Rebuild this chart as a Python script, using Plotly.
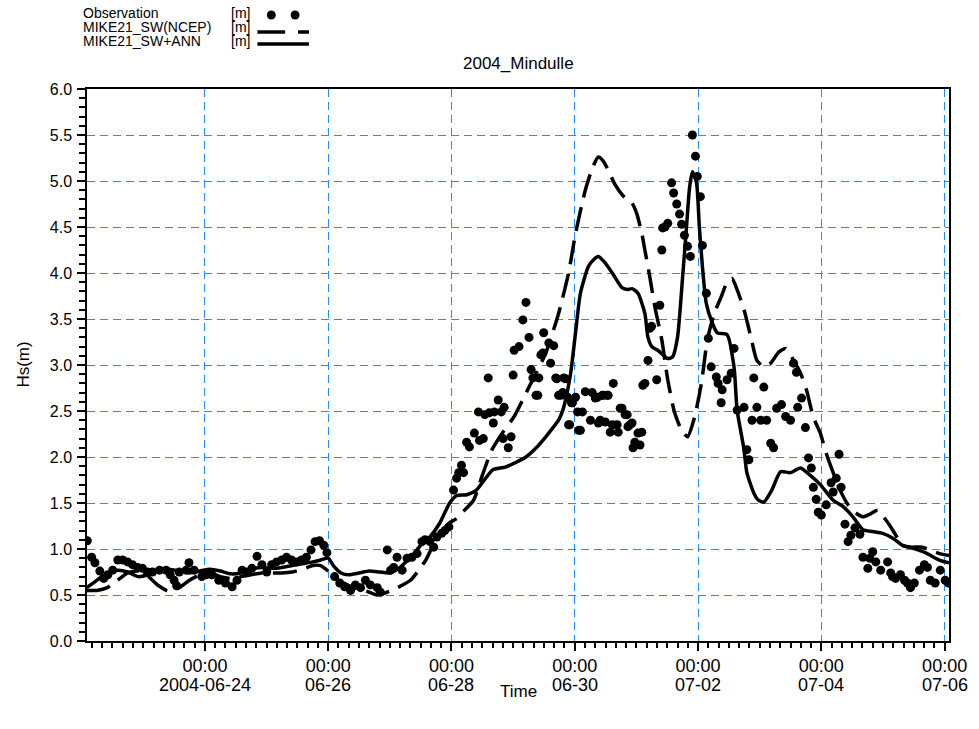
import pandas as pd
import plotly.graph_objects as go

BASE = pd.Timestamp("2004-06-22 00:00")

# Observed significant wave height: hours after 2004-06-22 00:00, Hs [m]
obs_hours = [
    2.2, 3.9, 5.2, 7.1, 8.6, 10.2, 12.1, 14.1, 16.0, 17.9, 19.8, 21.8, 23.7, 25.6, 27.6,
    30.3, 32.9, 34.5, 36.0, 37.0, 38.0, 40.7, 41.8, 43.8, 46.8, 48.5, 50.7, 53.4, 56.0,
    58.6, 60.5, 62.5, 64.4, 66.3, 68.3, 70.2, 72.1, 74.0, 75.9, 77.9, 79.8, 81.7, 83.7,
    85.6, 87.5, 89.3, 90.9, 92.6, 94.3, 95.5, 98.5, 100.5, 102.4, 104.7, 106.6, 108.6,
    110.5, 112.4, 115.1, 116.3, 119.0, 120.3, 121.5, 122.8, 124.8, 126.7, 128.6, 130.6,
    132.5, 133.7, 135.6, 137.1, 138.3, 140.2, 141.4, 143.0, 144.8, 146.0, 146.8, 147.9,
    148.7, 149.9, 151.0, 152.9, 154.5, 154.9, 156.4, 157.0, 158.3, 158.7, 160.3, 160.7,
    162.2, 163.4, 164.1, 164.5, 166.1, 167.2, 168.0, 168.4, 170.3, 171.8, 173.0, 174.2,
    175.0, 175.7, 176.9, 177.6, 178.0, 178.8, 179.6, 179.9, 181.9, 182.6, 183.8, 184.6,
    185.0, 185.7, 186.5, 187.3, 187.7, 188.4, 189.2, 189.6, 190.0, 190.7, 191.1, 192.3,
    193.1, 193.5, 194.2, 195.0, 196.1, 198.1, 198.8, 200.0, 200.8, 201.2, 201.9, 202.7,
    203.1, 203.9, 204.6, 205.0, 205.8, 206.6, 207.0, 208.5, 208.9, 209.7, 210.4, 211.6,
    212.4, 212.7, 213.5, 214.3, 214.7, 215.4, 216.6, 217.4, 218.1, 218.5, 219.3, 220.5,
    221.2, 221.9, 223.9, 225.1, 225.9, 226.2, 227.1, 228.2, 229.7, 230.5, 231.7, 232.8,
    233.6, 234.7, 235.9, 237.0, 237.8, 239.0, 239.7, 240.9, 241.7, 243.2, 244.0, 245.1,
    247.1, 247.8, 249.0, 249.4, 251.3, 252.9, 254.0, 255.2, 257.9, 259.0, 259.8, 261.0,
    261.7, 262.9, 264.4, 265.6, 266.7, 268.3, 269.4, 270.6, 272.5, 274.1, 276.0, 277.2,
    278.3, 278.8, 280.3, 281.8, 283.0, 284.1, 284.9, 286.0, 286.8, 288.0, 289.9, 291.8,
    292.6, 293.8, 294.9, 295.7, 297.2, 298.4, 299.5, 301.1, 303.0, 304.2, 306.1, 306.9,
    308.0, 309.2, 311.1, 313.8, 315.0, 315.7, 316.9, 318.8, 320.4, 321.5, 322.7, 324.2,
    326.2, 328.1, 329.3, 330.4, 332.3, 334.3, 336.2, 337.5,
]
obs_hs = [
    1.09, 0.91, 0.85, 0.76, 0.68, 0.72, 0.77, 0.88, 0.88, 0.86, 0.83, 0.80, 0.79, 0.75, 0.75,
    0.77, 0.77, 0.72, 0.66, 0.60, 0.75, 0.77, 0.85, 0.77, 0.70, 0.72, 0.72, 0.66, 0.63,
    0.59, 0.66, 0.77, 0.75, 0.79, 0.92, 0.83, 0.75, 0.83, 0.86, 0.88, 0.91, 0.88, 0.86,
    0.88, 0.91, 0.99, 1.08, 1.09, 1.04, 0.96, 0.70, 0.63, 0.59, 0.55, 0.61, 0.58,
    0.66, 0.61, 0.58, 0.53, 0.99, 0.77, 0.80, 0.91, 0.77, 0.90, 0.91, 0.95,
    1.08, 1.10, 1.08, 1.02, 1.13, 1.17, 1.20, 1.24, 1.64, 1.77, 1.83, 1.91,
    1.83, 2.16, 2.11, 2.26, 2.49, 2.18, 2.20, 2.46, 2.86, 2.48, 2.37, 2.49,
    2.62, 2.49, 2.20, 2.54, 2.10, 2.22, 2.89, 3.16, 3.20, 3.49, 3.68, 3.30,
    2.95, 2.86, 2.67, 2.67, 2.86, 3.11, 3.13, 3.35, 3.24, 3.02, 3.21, 2.86,
    2.85, 2.67, 2.67, 2.70, 2.86, 2.85, 2.65, 2.35, 2.35, 2.59, 2.59, 2.65,
    2.49, 2.29, 2.29, 2.49, 2.71, 2.40, 2.70, 2.64, 2.65, 2.37, 2.40, 2.67,
    2.67, 2.38, 2.67, 2.67, 2.27, 2.35, 2.80, 2.35, 2.27, 2.53, 2.53, 2.46,
    2.46, 2.33, 2.35, 2.37, 2.10, 2.16, 2.26, 2.13, 2.27, 2.78, 2.80, 3.05,
    3.40, 3.42, 2.84, 3.65, 4.25, 4.49, 4.50, 4.54, 4.98, 4.87, 4.75, 4.64,
    4.53, 4.41, 4.29, 4.18, 5.50, 5.27, 5.05, 4.83, 4.30, 3.78, 3.29, 2.98,
    2.87, 2.80, 2.59, 2.73, 2.84, 2.91, 3.18, 2.51, 2.54, 2.08, 1.97, 2.40,
    2.86, 2.54, 2.40, 2.76, 2.40, 2.15, 2.10, 2.53, 2.57, 2.44, 2.40, 3.02,
    2.92, 2.54, 2.64, 2.32, 1.99, 1.88, 1.67, 1.54, 1.40, 1.37, 1.48, 1.72,
    1.62, 1.77, 2.03, 1.67, 1.27, 1.08, 1.15, 1.23, 1.16, 0.91, 0.79, 0.90,
    0.97, 0.86, 0.77, 0.86, 0.74, 0.70, 0.68, 0.72, 0.66, 0.63, 0.58, 0.63,
    0.77, 0.83, 0.80, 0.66, 0.63, 0.77, 0.66, 0.63,
]

# MIKE21 SW driven by NCEP winds
ncep_hours = [
    2, 6, 10, 14, 18, 22, 26, 30, 34, 38, 42, 46, 50, 54, 58, 62, 66, 70, 74, 78, 82, 86,
    90, 93, 96, 99, 102, 106, 110, 115, 118, 123, 128, 131, 134, 138, 143, 146, 149, 152.6,
    156, 159.6, 164, 168.4, 174.2, 180.7, 185.7, 189.6, 192.3, 196.1, 199, 201.2, 203, 205,
    207.7, 210.8, 214.3, 216.2, 218.1, 219.3, 221.2, 223.2, 225.9, 228.2, 230.9, 233.6,
    235.9, 238.6, 241.3, 243.6, 246.3, 249, 251.3, 253.2, 255.2, 257.9, 260.6, 262.9,
    265.6, 268.3, 271.4, 274.1, 277.2, 279.9, 282.2, 284.9, 287.6, 289.9, 292.6, 295.3,
    298.4, 301, 304.2, 307, 310, 313, 315.7, 319.6, 323, 327.3, 331, 334, 337.7,
]
ncep_hs = [
    0.55, 0.55, 0.58, 0.66, 0.74, 0.76, 0.70, 0.60, 0.54, 0.58, 0.66, 0.72, 0.74, 0.70,
    0.68, 0.70, 0.72, 0.74, 0.74, 0.74, 0.75, 0.78, 0.82, 0.82, 0.76, 0.68, 0.63, 0.58,
    0.55, 0.50, 0.52, 0.58, 0.66, 0.76, 0.88, 1.10, 1.28, 1.33, 1.42, 1.53, 1.80, 2.07,
    2.27, 2.44, 2.76, 3.13, 3.56, 4.00, 4.43, 4.90, 5.15, 5.26, 5.22, 5.12, 4.96, 4.84,
    4.76, 4.64, 4.43, 4.25, 3.96, 3.63, 3.27, 2.84, 2.48, 2.29, 2.22, 2.43, 2.80, 3.27,
    3.56, 3.74, 3.90, 3.94, 3.82, 3.60, 3.30, 3.05, 2.98, 3.02, 3.14, 3.18, 3.05, 2.91,
    2.73, 2.43, 2.26, 2.04, 1.83, 1.64, 1.48, 1.40, 1.35, 1.38, 1.42, 1.32, 1.21, 1.04,
    1.02, 1.02, 0.98, 0.95, 0.93,
]

# MIKE21 SW corrected with the ANN
ann_hours = [
    2, 5, 8, 11, 14, 18, 22, 26, 30, 34, 38, 42, 46, 50, 54, 58, 62, 66, 70, 74, 78, 82,
    86, 90, 93, 96, 98, 101, 104, 108, 112, 116, 120, 124, 127, 129.4, 132, 135.6, 139.4,
    143.3, 146, 150, 153.7, 157.6, 160, 165, 169, 173, 177, 180.7, 183, 185.7, 187.5,
    188.4, 190.4, 192.3, 194.2, 197.3, 199.5, 201.2, 203.5, 206.6, 210.4, 212.5, 214.3,
    216.6, 219.3, 220.5, 222, 224.3, 228.2, 230.1, 232, 234, 235.5, 236.7, 237.8, 239.4,
    240.5, 241.7, 243.2, 245.5, 247.5, 251.3, 254, 255.2, 257.9, 259, 261.7, 263.5, 265.6,
    268.7, 272.1, 276, 279.9, 283.7, 287.6, 292.6, 296.5, 300.3, 304.2, 308, 311.9, 315.7,
    319.6, 323.5, 328.5, 333.9, 337.7,
]
ann_hs = [
    0.58, 0.64, 0.70, 0.74, 0.77, 0.75, 0.70, 0.72, 0.77, 0.78, 0.76, 0.74, 0.76, 0.78,
    0.76, 0.73, 0.74, 0.78, 0.80, 0.79, 0.80, 0.82, 0.84, 0.86, 0.88, 0.90, 0.82, 0.74,
    0.72, 0.74, 0.76, 0.75, 0.74, 0.80, 0.88, 0.95, 1.04, 1.13, 1.28, 1.50, 1.58, 1.59,
    1.64, 1.78, 1.86, 1.89, 1.94, 2.00, 2.10, 2.22, 2.30, 2.40, 2.52, 2.62, 2.91, 3.35,
    3.78, 4.07, 4.15, 4.18, 4.12, 4.00, 3.84, 3.82, 3.83, 3.78, 3.56, 3.30, 3.20, 3.16,
    3.07, 3.09, 3.30, 3.96, 4.50, 4.93, 5.10, 4.98, 4.50, 4.07, 3.67, 3.46, 3.35, 3.33,
    2.98, 2.51, 2.08, 1.83, 1.61, 1.53, 1.51, 1.64, 1.84, 1.83, 1.88, 1.80, 1.70, 1.53,
    1.46, 1.35, 1.21, 1.19, 1.17, 1.12, 1.04, 1.01, 0.96, 0.88, 0.85,
]

tick_days = ["2004-06-24", "2004-06-26", "2004-06-28", "2004-06-30",
             "2004-07-02", "2004-07-04", "2004-07-06"]
tick_times = ["00:00"] * len(tick_days)
tick_dates = ["2004-06-24", "06-26", "06-28", "06-30", "07-02", "07-04", "07-06"]


def to_time(hours):
    return BASE + pd.to_timedelta(hours, unit="h")


FONT = "Liberation Sans, Arial, sans-serif"
GRID = "#1E90FF"

fig = go.Figure()
fig.add_trace(go.Scatter(
    x=to_time(obs_hours), y=obs_hs, mode="markers", name="Observation",
    marker=dict(color="black", size=9, line=dict(width=0)),
))
fig.add_trace(go.Scatter(
    x=to_time(ncep_hours), y=ncep_hs, mode="lines", name="MIKE21_SW(NCEP)",
    line=dict(color="black", width=3.5, dash="24px,10px", shape="spline", smoothing=0.6),
))
fig.add_trace(go.Scatter(
    x=to_time(ann_hours), y=ann_hs, mode="lines", name="MIKE21_SW+ANN",
    line=dict(color="black", width=3.5, shape="spline", smoothing=0.6),
))

# plot area in pixels: x 87..957, y 89..641
L, R, T, B = 87, 957, 89, 641
W, H = 979, 729


def px(xp):
    return (xp - L) / (R - L)


def py(yp):
    return (B - yp) / (B - T)


def label(text, x, y, size, xanchor="center", **kw):
    return dict(text=text, x=x, y=y, xref=kw.pop("xref", "paper"), yref="paper",
                xanchor=xanchor, yanchor="middle", showarrow=False, borderpad=0,
                font=dict(size=size, color="black", family=FONT), **kw)


annotations = [
    label("2004_Mindulle", 0.5, py(64), 17),
    label("Hs(m)", px(22), 0.5, 17, textangle=-90),
    label("Time", 0.5, py(691), 17),
]
# second row of the time axis labels
for day, text in zip(tick_days, tick_dates):
    annotations.append(label(text, pd.Timestamp(day), py(685), 18, xref="x"))

legend_rows = [("Observation", 12.5), ("MIKE21_SW(NCEP)", 26.5), ("MIKE21_SW+ANN", 40.5)]
for text, yrow in legend_rows:
    annotations.append(label(text, px(82), py(yrow), 14, xanchor="left"))
    annotations.append(label("[m]", px(231), py(yrow), 14, xanchor="left"))

shapes = []
# legend symbols
for cx in (273, 297):
    shapes.append(dict(type="circle", xref="paper", yref="paper",
                       x0=px(cx - 4.5), x1=px(cx + 4.5), y0=py(15 + 4.5), y1=py(15 - 4.5),
                       fillcolor="black", line=dict(width=0)))
for x0, x1 in ((259, 287), (300, 311)):
    shapes.append(dict(type="line", xref="paper", yref="paper",
                       x0=px(x0), x1=px(x1), y0=py(32), y1=py(32),
                       line=dict(color="black", width=3.5)))
shapes.append(dict(type="line", xref="paper", yref="paper",
                   x0=px(259), x1=px(311), y0=py(44), y1=py(44),
                   line=dict(color="black", width=3.5)))

fig.update_layout(
    width=W, height=H,
    margin=dict(l=L, r=W - R, t=T, b=H - B),
    paper_bgcolor="white", plot_bgcolor="white",
    showlegend=False,
    font=dict(family=FONT, color="black"),
    annotations=annotations,
    shapes=shapes,
)
fig.update_xaxes(
    range=[BASE + pd.Timedelta(hours=2.1), BASE + pd.Timedelta(hours=337.7)],
    tickvals=pd.to_datetime(tick_days), ticktext=tick_times,
    tickfont=dict(size=18, family=FONT, color="black"),
    ticks="outside", ticklen=8, tickcolor="black", tickwidth=1.5,
    showline=True, linecolor="black", linewidth=1.5, mirror=True,
    showgrid=True, gridcolor=GRID, gridwidth=1, griddash="8px,5px",
    minor=dict(dtick=4 * 3600 * 1000, ticks="outside", ticklen=5, tickcolor="black",
               showgrid=False),
    zeroline=False,
)
fig.update_yaxes(
    range=[0, 6], dtick=0.5, tickformat=".1f",
    tickfont=dict(size=16, family=FONT, color="black"),
    ticks="outside", ticklen=8, tickcolor="black", tickwidth=1.5,
    ticklabelstandoff=2,
    showline=True, linecolor="black", linewidth=1.5, mirror=True,
    showgrid=True, gridcolor=GRID, gridwidth=1, griddash="8px,5px",
    minor=dict(dtick=0.1, ticks="outside", ticklen=6, tickcolor="black", showgrid=False),
    zeroline=False,
)

fig.write_html("out.html")
